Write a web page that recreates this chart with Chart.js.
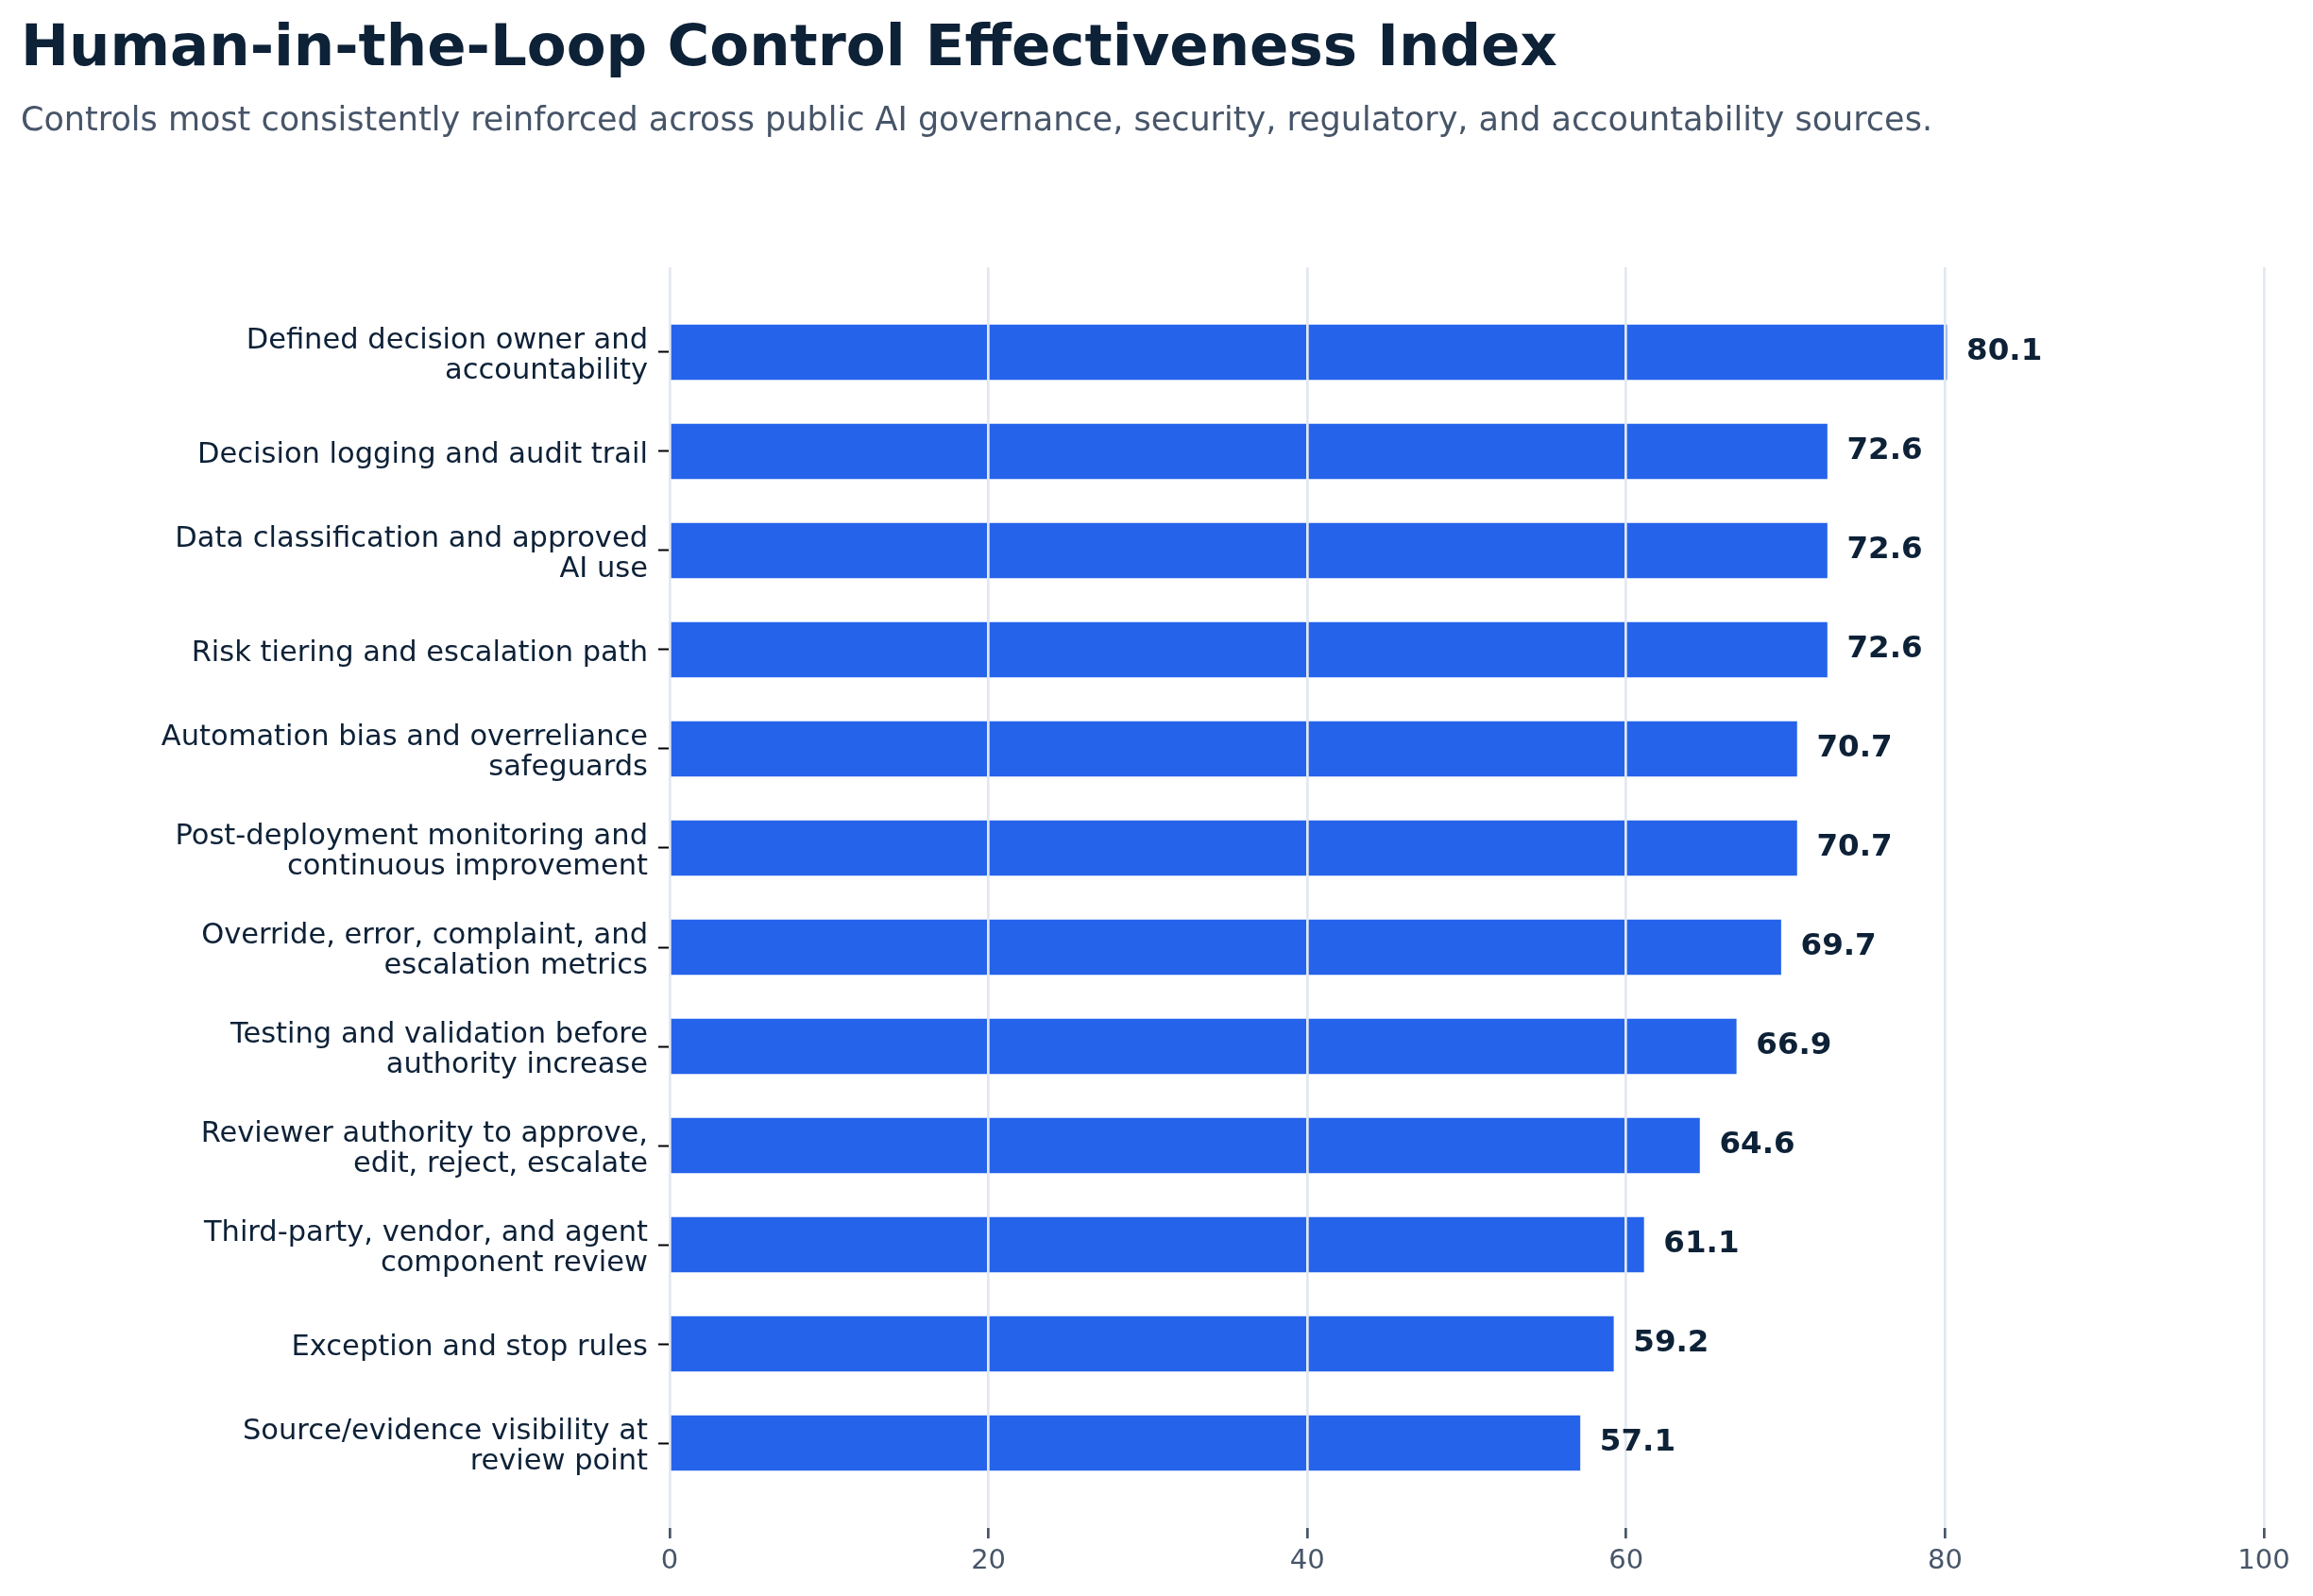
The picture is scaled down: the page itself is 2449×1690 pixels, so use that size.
<!DOCTYPE html>
<html>
<head>
<meta charset="utf-8">
<title>Human-in-the-Loop Control Effectiveness Index</title>
<script src="https://cdn.jsdelivr.net/npm/chart.js@4.4.1/dist/chart.umd.min.js"></script>
<style>
  html, body { margin: 0; padding: 0; background: #ffffff; }
  #wrap { position: relative; width: 2449px; height: 1690px; }
  #title {
    position: absolute; left: 22px; top: 17px; margin: 0;
    font: bold 61px "DejaVu Sans", sans-serif; line-height: 1;
    color: #0d2137; white-space: nowrap;
  }
  #subtitle {
    position: absolute; left: 22px; top: 109px; margin: 0;
    font: 35px "DejaVu Sans", sans-serif; line-height: 1;
    color: #475569; white-space: nowrap;
  }
  #box { position: absolute; left: 0; top: 0; width: 2449px; height: 1690px; }
</style>
</head>
<body>
<div id="wrap">
  <div id="box"><canvas id="chart"></canvas></div>
  <h1 id="title">Human-in-the-Loop Control Effectiveness Index</h1>
  <p id="subtitle">Controls most consistently reinforced across public AI governance, security, regulatory, and accountability sources.</p>
</div>
<script>
// categories, top to bottom (each entry = wrapped lines)
var controls = [
    ["Defined decision owner and", "accountability"],
    ["Decision logging and audit trail"],
    ["Data classification and approved", "AI use"],
    ["Risk tiering and escalation path"],
    ["Automation bias and overreliance", "safeguards"],
    ["Post-deployment monitoring and", "continuous improvement"],
    ["Override, error, complaint, and", "escalation metrics"],
    ["Testing and validation before", "authority increase"],
    ["Reviewer authority to approve,", "edit, reject, escalate"],
    ["Third-party, vendor, and agent", "component review"],
    ["Exception and stop rules"],
    ["Source/evidence visibility at", "review point"]
];
// index scores
var scores = [80.1, 72.6, 72.6, 72.6, 70.7, 70.7, 69.7, 66.9, 64.6, 61.1, 59.2, 57.1];
// x axis ticks
var xTicks = [0, 20, 40, 60, 80, 100];

var font = '"DejaVu Sans", sans-serif';

// value labels at bar ends
const valueLabels = {
    id: 'valueLabels',
    afterDraw(chart) {
        const ctx = chart.ctx;
        const meta = chart.getDatasetMeta(0);
        ctx.save();
        ctx.font = 'bold 32.5px ' + font;
        ctx.fillStyle = '#0d2137';
        ctx.textAlign = 'left';
        ctx.textBaseline = 'middle';
        meta.data.forEach(function (bar, i) {
            ctx.fillText(scores[i].toFixed(1), bar.x + 21, bar.y);
        });
        ctx.restore();
    }
};

const chrt = document.getElementById('chart');
const ChartData = new Chart(chrt, {
    type: 'bar',
    data: {
        datasets: [
            {
                data: scores.map(function (v, i) { return { x: v, y: i }; }),
                backgroundColor: '#2563eb',
                borderWidth: 0,
                barThickness: 58
            }
        ]
    },
    options: {
        indexAxis: 'y',
        responsive: true,
        maintainAspectRatio: false,
        animation: false,
        layout: { padding: { top: 283, right: 52, left: 0, bottom: 0 } },
        plugins: {
            legend: { display: false },
            tooltip: { enabled: false }
        },
        scales: {
            x: {
                type: 'linear',
                min: 0,
                max: 100,
                afterBuildTicks: function (scale) {
                    scale.ticks = xTicks.map(function (v) { return { value: v }; });
                },
                afterFit: function (scale) { scale.height = 72; },
                ticks: {
                    color: '#475569',
                    font: { family: font, size: 29 },
                    padding: 7,
                    maxRotation: 0
                },
                grid: {
                    z: 1,
                    color: '#e2e8f0',
                    lineWidth: 2.7,
                    tickLength: 11,
                    tickColor: '#475569',
                    tickWidth: 2.7
                },
                border: { display: false }
            },
            y: {
                type: 'linear',
                reverse: true,
                offset: false,
                min: -0.857,
                max: 11.857,
                afterBuildTicks: function (scale) {
                    scale.ticks = controls.map(function (c, i) { return { value: i }; });
                },
                afterFit: function (scale) { scale.width = 709; },
                ticks: {
                    color: '#0d2137',
                    font: { family: font, size: 30.5, lineHeight: 1.05 },
                    padding: 11,
                    labelOffset: 4,
                    autoSkip: false,
                    callback: function (v) { return controls[v]; }
                },
                grid: {
                    offset: false,
                    drawOnChartArea: false,
                    tickLength: 12,
                    tickColor: '#000000',
                    tickWidth: 2
                },
                border: { display: false }
            }
        }
    },
    plugins: [valueLabels]
});
</script>
</body>
</html>
